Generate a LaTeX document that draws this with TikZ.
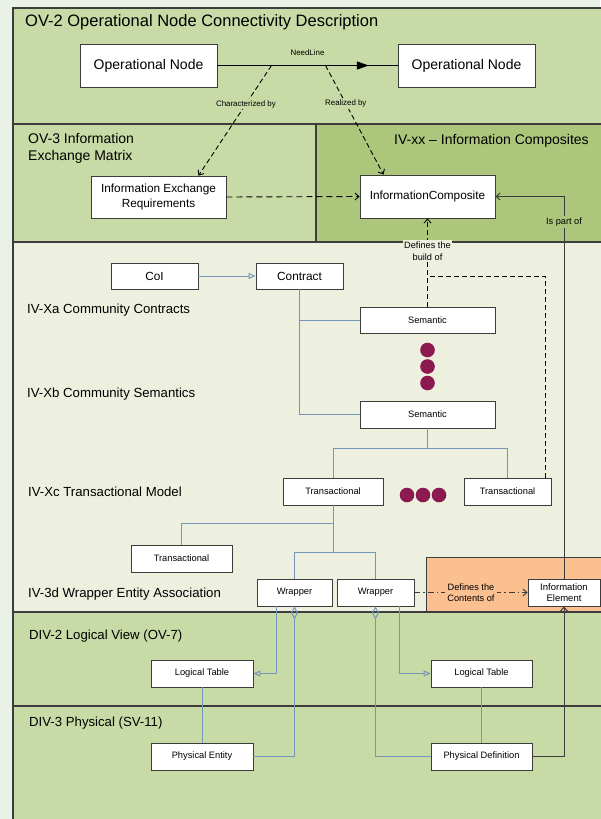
\documentclass[tikz,border=0pt]{standalone}
\usepackage{fontspec}
\setmainfont{Liberation Sans}
\usetikzlibrary{arrows.meta,calc,decorations.markings}

\definecolor{paleback}{RGB}{234,241,230}
\definecolor{lightgreen}{RGB}{200,218,165}
\definecolor{darkgreen}{RGB}{172,198,124}
\definecolor{creamband}{RGB}{237,240,223}
\definecolor{peach}{RGB}{250,192,143}
\definecolor{edgegray}{RGB}{60,60,60}
\definecolor{treeblue}{RGB}{118,150,184}
\definecolor{dotpurple}{RGB}{140,26,80}

\tikzset{
	band/.style={draw=edgegray, line width=1.2pt},
	box/.style={draw=edgegray, fill=white, line width=0.8pt, inner sep=1pt, align=center},
	opbox/.style={box, font=\fontsize{14}{16}\selectfont, minimum width=137, minimum height=43},
	midbox/.style={box, font=\fontsize{11.8}{14.5}\selectfont, minimum height=26},
	smallbox/.style={box, font=\fontsize{9.3}{11.5}\selectfont, minimum height=27},
	heading/.style={anchor=west, inner sep=0pt, align=left, font=\fontsize{13.2}{17}\selectfont},
	linelabel/.style={inner sep=1.5pt, align=center, font=\fontsize{9.2}{11.5}\selectfont},
	tinylabel/.style={inner sep=1.5pt, font=\fontsize{7.9}{9}\selectfont},
	barb/.style={-{Straight Barb[length=4pt,width=7pt]}},
	dashlink/.style={barb, draw=black, line width=0.9pt, dash pattern=on 5pt off 3pt},
	tree/.style={draw=treeblue, line width=1pt},
	gentip/.style={-{Triangle[open,length=7pt,width=6pt]}},
	holder/.style={{Diamond[open,length=13pt,width=7pt]}-},
	partof/.style={barb, draw=edgegray, line width=1pt},
	needline/.style={draw=black, line width=1pt, postaction=decorate,
		decoration={markings, mark=at position 0.84 with {\arrow{Triangle[length=12pt,width=8pt]}}}},
	contentlink/.style={barb, draw=edgegray, line width=0.9pt, dash pattern=on 6pt off 3pt on 1.5pt off 3pt}
}

\begin{document}
\begin{tikzpicture}[x=1pt,y=-1pt]
	\useasboundingbox (0,0) rectangle (600,819);
	\fill[paleback] (0,0) rectangle (600,819);
	\filldraw[band, fill=lightgreen] (13,8) rectangle (606,124);
	\filldraw[band, fill=lightgreen] (13,124) rectangle (316,242);
	\filldraw[band, fill=darkgreen] (316,124) rectangle (606,242);
	\filldraw[band, fill=creamband] (13,242) rectangle (606,612);
	\filldraw[band, fill=peach, line width=0.5pt] (426,557) rectangle (606,612);
	\filldraw[band, fill=lightgreen] (13,612) rectangle (606,706);
	\filldraw[band, fill=lightgreen] (13,706) rectangle (606,825);

	\node (hOV2) at (25,22) [heading, font=\fontsize{16.5}{18}\selectfont] {OV-2 Operational Node Connectivity Description};
	\node (hOV3) at (28,148) [heading, font=\fontsize{14}{17}\selectfont] {OV-3 Information\\Exchange Matrix};
	\node (hIVxx) at (394,141) [heading, font=\fontsize{14}{17}\selectfont] {IV-xx – Information Composites};
	\node (hIVXa) at (27,310) [heading] {IV-Xa Community Contracts};
	\node (hIVXb) at (27,394) [heading] {IV-Xb Community Semantics};
	\node (hIVXc) at (28,492) [heading] {IV-Xc Transactional Model};
	\node (hIV3d) at (28,594) [heading] {IV-3d Wrapper Entity Association};
	\node (hDIV2) at (29,636) [heading] {DIV-2 Logical View (OV-7)};
	\node (hDIV3) at (29,723) [heading] {DIV-3 Physical (SV-11)};

	\node (opA) at (148.5,65.5) [opbox] {Operational Node};
	\node (opB) at (466.5,65.5) [opbox] {Operational Node};
	\node (ier) at (158.5,197) [midbox, minimum width=135, minimum height=42] {Information Exchange\\Requirements};
	\node (ic) at (427.5,196.5) [midbox, minimum width=135, minimum height=43] {InformationComposite};
	\node (coi) at (154.5,276) [midbox, minimum width=87] {CoI};
	\node (contract) at (299.5,276) [midbox, minimum width=87] {Contract};
	\node (sem1) at (427.5,320) [smallbox, minimum width=135, minimum height=26] {Semantic};
	\node (sem2) at (427.5,414.5) [smallbox, minimum width=135] {Semantic};
	\node (trA) at (333,491.5) [smallbox, minimum width=100] {Transactional};
	\node (trB) at (507.5,491.5) [smallbox, minimum width=87] {Transactional};
	\node (trC) at (181.5,558.5) [smallbox, minimum width=101] {Transactional};
	\node (wrA) at (294.5,592.5) [smallbox, minimum width=75] {Wrapper};
	\node (wrB) at (375.5,592.5) [smallbox, minimum width=77] {Wrapper};
	\node (ie) at (564,592.5) [smallbox, minimum width=72, font=\fontsize{9.5}{11.5}\selectfont] {Information\\Element};
	\node (ltA) at (202,673.5) [smallbox, minimum width=102] {Logical Table};
	\node (ltB) at (481.5,673.5) [smallbox, minimum width=101] {Logical Table};
	\node (peA) at (202,756.5) [smallbox, minimum width=102] {Physical Entity};
	\node (pdB) at (481.5,756.5) [smallbox, minimum width=101] {Physical Definition};

	\foreach \y in {350,366.5,383}
		\fill[dotpurple] (427.5,\y) circle (7.3);
	\foreach \x in {407,423,439}
		\fill[dotpurple] (\x,495) circle (7.3);

	\draw[needline] (opA) -- (opB) node[midway, above=8pt, tinylabel] (nlText) {NeedLine};
	\coordinate (chrA) at ($(opA.east)!0.3!(opB.west)$);
	\coordinate (realA) at ($(opA.east)!0.6!(opB.west)$);
	\draw[dashlink] (chrA) -- node[pos=0.35, tinylabel, fill=lightgreen] {Characterized by} ([xshift=40pt]ier.north);
	\draw[dashlink] (realA) -- node[pos=0.35, tinylabel, fill=lightgreen] {Realized by} ([xshift=-44pt]ic.north);
	\draw[dashlink, dash pattern=on 6pt off 4pt] (ier.east) -- (ic.west);
	\draw[partof] (ie.north) |- node[pos=0.467, linelabel, fill=darkgreen] {Is part of} (ic.east);

	\coordinate (buildJoin) at (427.5,276);
	\draw[dashlink] (sem1.north) -- node[pos=0.63, linelabel, fill=creamband] {Defines the\\build of} (ic.south);
	\draw[dashlink, -] ([xshift=38pt]trB.north) |- (buildJoin);

	\draw[tree, gentip] (coi) -- (contract);
	\draw[tree] (contract.south) |- (sem1.west);
	\draw[tree] (contract.south) |- (sem2.west);
	\draw[tree] (sem2.south) -- ++(0,20) -| (trA.north);
	\draw[tree] (sem2.south) -- ++(0,20) -| (trB.north);
	\draw[tree] (trA.south) -- ++(0,18) -| (trC.north);
	\draw[tree] (trA.south) -- ++(0,47) -| (wrA.north);
	\draw[tree] (trA.south) -- ++(0,47) -| (wrB.north);
	\draw[tree, gentip] ([xshift=-18pt]wrA.south) |- (ltA.east);
	\draw[tree, gentip] ([xshift=24pt]wrB.south) |- (ltB.west);
	\draw[tree, holder] (wrA.south) |- (peA.east);
	\draw[tree, holder] (wrB.south) |- (pdB.west);
	\draw[tree] (ltA) -- (peA);
	\draw[tree] (ltB) -- (pdB);

	\draw[partof] (pdB.east) -| (ie.south);
	\draw[contentlink] (wrB.east) -- node[linelabel, fill=peach, inner sep=2pt] {Defines the\\Contents of} (ie.west);
\end{tikzpicture}
\end{document}
